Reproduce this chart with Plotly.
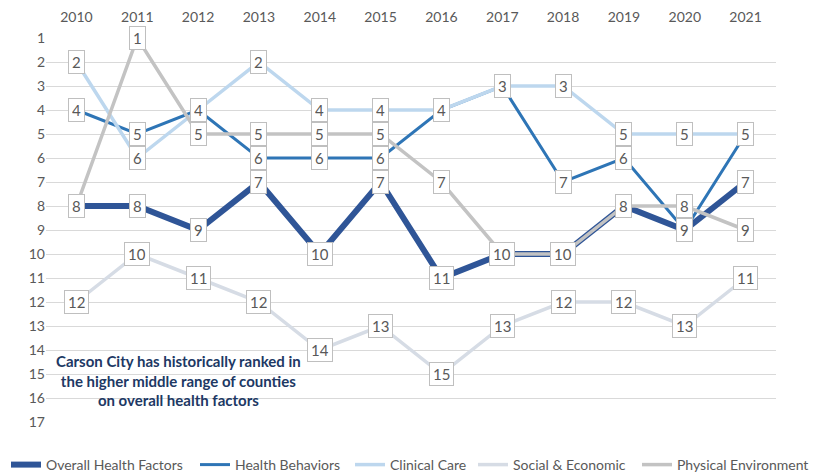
import plotly.graph_objects as go

years = ["2010", "2011", "2012", "2013", "2014", "2015", "2016", "2017", "2018", "2019", "2020", "2021"]
overall = [8, 8, 9, 7, 10, 7, 11, 10, 10, 8, 9, 7]
behaviors = [4, 5, 4, 6, 6, 6, 4, 3, 7, 6, 9, 5]
clinical = [2, 6, 4, 2, 4, 4, 4, 3, 3, 5, 5, 5]
social = [12, 10, 11, 12, 14, 13, 15, 13, 12, 12, 13, 11]
physical = [8, 1, 5, 5, 5, 5, 7, 10, 10, 8, 8, 9]

series = [
    ("Overall Health Factors", overall, "#2F5597", 6),
    ("Health Behaviors", behaviors, "#2E75B6", 3),
    ("Clinical Care", clinical, "#BDD7EE", 3.5),
    ("Social & Economic", social, "#D6DCE5", 3.5),
    ("Physical Environment", physical, "#C3C3C3", 3.5),
]
# left edge (px) where each legend text starts in the reference
legend_text_x = [48, 237, 392, 515, 679]

FONT = "Lato, Open Sans, sans-serif"
W, H = 817, 473
fig = go.Figure()
annotations = []
legend_ids = ["legend", "legend2", "legend3", "legend4", "legend5"]
for (name, vals, color, w), lid in zip(series, legend_ids):
    fig.add_trace(go.Scatter(
        x=years, y=vals, name=name, mode="lines",
        line=dict(color=color, width=w), cliponaxis=False, legend=lid,
    ))
for name, vals, color, w in series:
    for i, v in enumerate(vals):
        annotations.append(dict(
            x=i, y=v, xref="x", yref="y", text=str(v), showarrow=False,
            font=dict(family=FONT, size=15, color="#595959"),
            bgcolor="white", bordercolor="#BFBFBF", borderwidth=1, borderpad=3,
            height=16, xanchor="center", yanchor="middle",
        ))

annotations.append(dict(
    x=0.181, y=0.107, xref="paper", yref="paper", showarrow=False,
    text="<b>Carson City has historically ranked in<br>the higher middle range of counties<br>on overall health factors</b>",
    font=dict(family=FONT, size=15, color="#203864"), align="center",
    xanchor="center", yanchor="middle",
))

layout_legends = {}
for lid, tx in zip(legend_ids, legend_text_x):
    layout_legends[lid] = dict(
        orientation="h", xref="container", x=(tx - 42) / W, xanchor="left",
        yref="container", y=(H - 465) / H, yanchor="middle",
        font=dict(family=FONT, size=14, color="#595959"),
        itemwidth=30, bgcolor="rgba(0,0,0,0)", borderwidth=0,
    )

fig.update_layout(
    width=W, height=H,
    margin=dict(l=46, r=41, t=38, b=51, autoexpand=False),
    paper_bgcolor="white", plot_bgcolor="white",
    font=dict(family=FONT, size=14, color="#595959"),
    showlegend=True,
    annotations=annotations,
    **layout_legends,
)
fig.update_xaxes(type="category", side="top", range=[-0.5, 11.5], showgrid=False,
                 showline=False, zeroline=False, ticks="", automargin=False,
                 ticklabelstandoff=12,
                 tickfont=dict(family=FONT, size=14, color="#595959"))
fig.update_yaxes(range=[17, 1], tickmode="array", tickvals=list(range(1, 18)),
                 showgrid=True, gridcolor="#D9D9D9", gridwidth=1, zeroline=False,
                 showline=False, ticks="", automargin=False,
                 tickfont=dict(family=FONT, size=14, color="#595959"))

fig.write_html("out.html", config={"displayModeBar": False},
               post_script="document.body.style.margin='0';document.body.style.overflow='hidden';")
